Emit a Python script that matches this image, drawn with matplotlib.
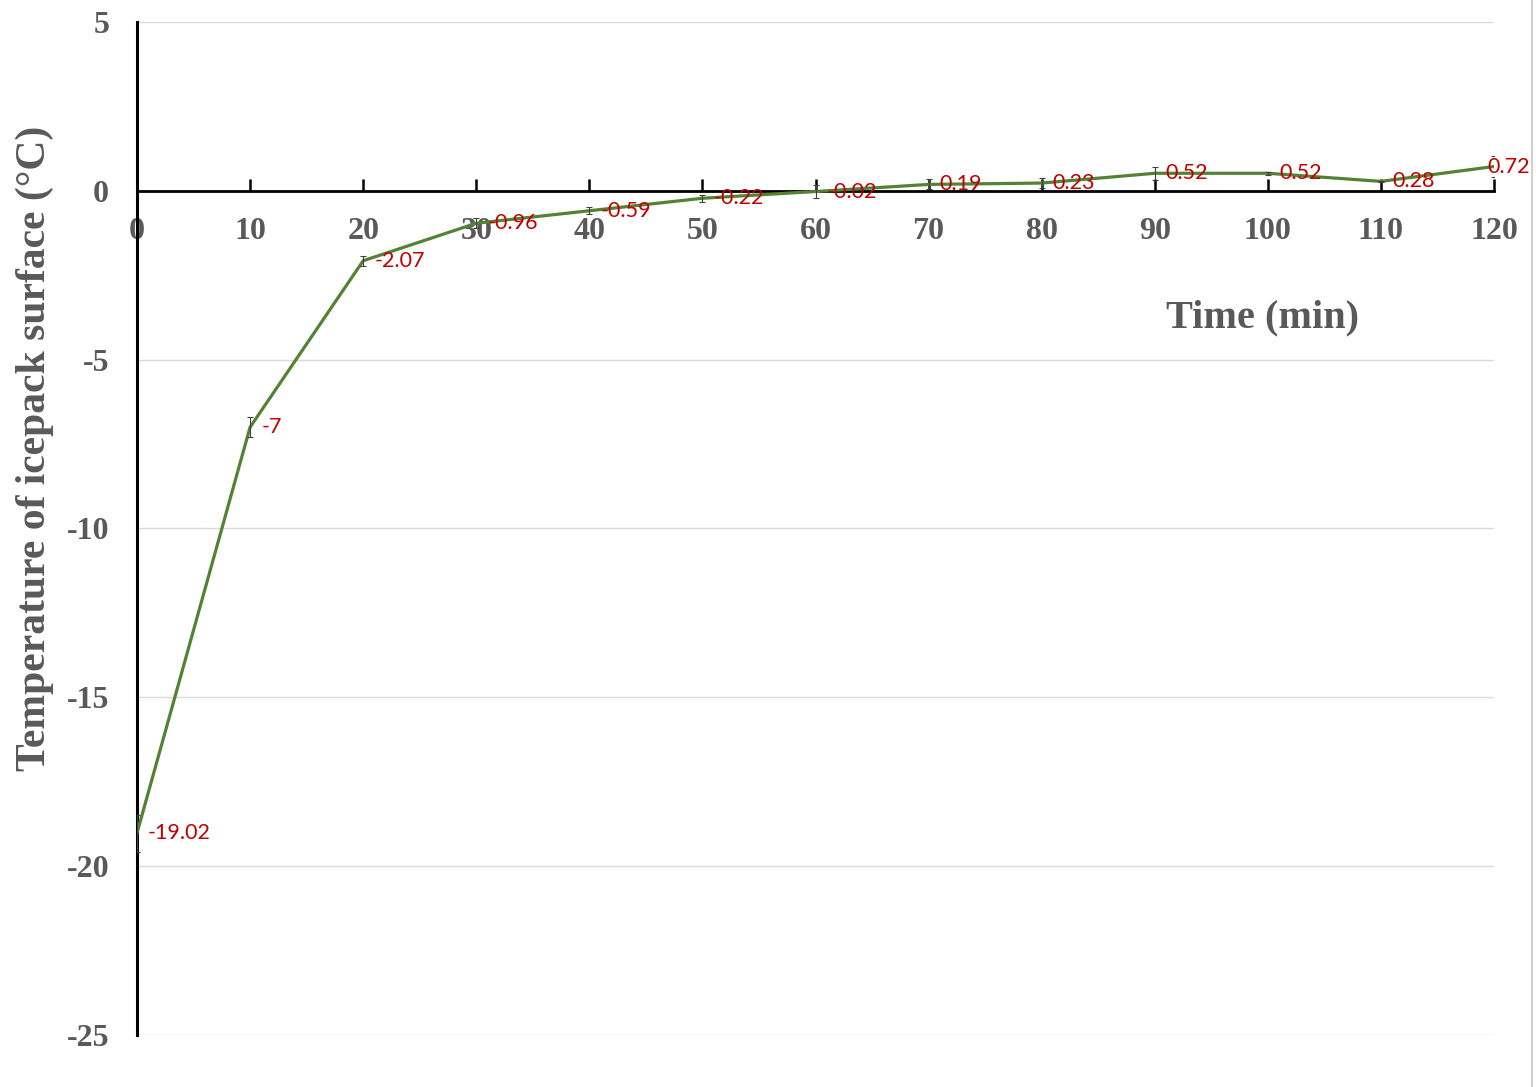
import matplotlib
matplotlib.use("Agg")
import matplotlib.pyplot as plt
from matplotlib.lines import Line2D

# data
time_min = [0, 10, 20, 30, 40, 50, 60, 70, 80, 90, 100, 110, 120]
temp_c = [-19.02, -7, -2.07, -0.96, -0.59, -0.22, -0.02, 0.19, 0.23, 0.52, 0.52, 0.28, 0.72]
temp_err = [0.55, 0.3, 0.15, 0.15, 0.1, 0.1, 0.2, 0.15, 0.15, 0.2, 0.05, 0.02, 0.3]
label_text = ["-19.02", "-7", "-2.07", "-0.96", "-0.59", "-0.22", "-0.02",
              "0.19", "0.23", "0.52", "0.52", "0.28", "0.72"]
xticks = list(range(0, 121, 10))
yticks = [5, 0, -5, -10, -15, -20, -25]

plt.rcParams["axes.unicode_minus"] = False
gray = "#595959"
serif = "Liberation Serif"

fig = plt.figure(figsize=(15.36, 10.87), dpi=100)
ax = fig.add_axes([137 / 1536, 1 - 1035 / 1087, (1494 - 137) / 1536, (1035 - 22) / 1087])

ax.plot(time_min, temp_c, color="#548235", lw=2.3, zorder=3)
ax.errorbar(time_min, temp_c, yerr=temp_err, fmt="none", ecolor="#404040",
            elinewidth=0.8, capsize=2.5, capthick=0.8, zorder=4)

for i, (x, y, t) in enumerate(zip(time_min, temp_c, label_text)):
    dx = -5 if i == len(time_min) - 1 else 8
    ax.annotate(t, (x, y), xytext=(dx, 0), textcoords="offset points",
                ha="left", va="center", color="#C00000", fontsize=15.5,
                family="Lato", zorder=5, annotation_clip=False)

ax.set_xlim(0, 120)
ax.set_ylim(-25, 5)
ax.set_yticks(yticks)
ax.set_xticks(xticks)
ax.grid(axis="y", color="#d9d9d9", lw=1)
ax.set_axisbelow(True)

for s in ["top", "right"]:
    ax.spines[s].set_visible(False)
ax.spines["bottom"].set_position(("data", 0))
ax.spines["bottom"].set_linewidth(2)
ax.spines["left"].set_linewidth(2.2)

ax.tick_params(axis="x", direction="in", length=9, width=1.8, pad=19,
               labelsize=23, labelcolor=gray)
ax.tick_params(axis="y", length=0, pad=20, labelsize=23, labelcolor=gray)
for lab in ax.get_xticklabels() + ax.get_yticklabels():
    lab.set_family(serif)
    lab.set_fontweight("bold")

fig.text(35 / 1536, 1 - 448 / 1087, "Temperature of icepack surface (°C)",
         rotation=90, ha="center", va="center", fontsize=30,
         color=gray, family=serif, fontweight="bold")
ax.text(1262 / 1536, 1 - 318 / 1087, "Time (min)", transform=fig.transFigure,
        ha="center", va="center", fontsize=29,
        color=gray, family=serif, fontweight="bold")

# faint spreadsheet border on the right
fig.add_artist(Line2D([1532 / 1536, 1532 / 1536], [0, 1], color="#d0d0d0", lw=1.5))

fig.savefig("out.png", dpi=100, facecolor="white")
